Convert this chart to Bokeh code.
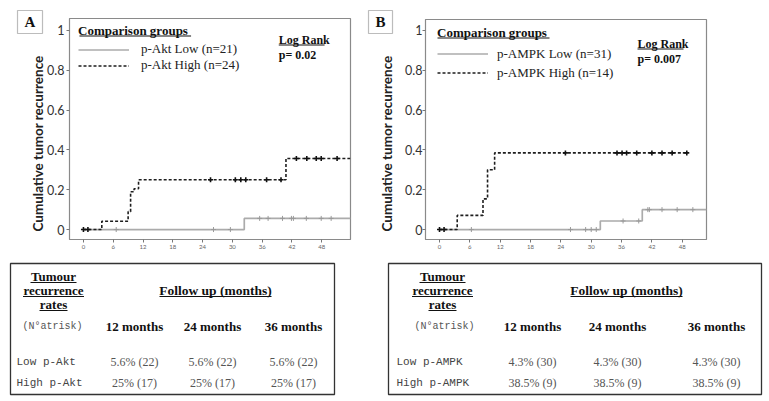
import math
from bokeh.plotting import figure
from bokeh.layouts import row, column
from bokeh.models import (Range1d, FixedTicker, CustomJSTickFormatter, Label, Legend,
                          LegendItem, BoxAnnotation)
from bokeh.embed import file_html
from bokeh.resources import INLINE
from bokeh.core.properties import value

# ---------------- data: panel A (p-Akt) ----------------
a_low_time = [0, 32.4, 53.8]
a_low_cum = [0, 0.056, 0.056]
a_high_time = [0, 3.7, 9.0, 9.5, 10.2, 11.1, 40.8, 53.8]
a_high_cum = [0, 0.042, 0.09, 0.19, 0.205, 0.25, 0.357, 0.357]
a_low_censor = [6.6, 26.2, 29.6, 35.5, 37.2, 40.1, 41.9, 42.3, 44.9, 47.9, 49.9]
a_high_censor = [0, 0.9, 25.6, 30.6, 31.7, 32.7, 36.9, 39.8, 42.9, 45.0, 46.9, 47.9, 51.1]
a_labels = ["p-Akt Low (n=21)", "p-Akt High (n=24)"]
a_pvalue = "p= 0.02"

# ---------------- data: panel B (p-AMPK) ----------------
b_low_time = [0, 31.8, 40.1, 52.8]
b_low_cum = [0, 0.043, 0.1, 0.1]
b_high_time = [0, 3.5, 8.6, 9.5, 10.9, 48.9]
b_high_cum = [0, 0.071, 0.154, 0.30, 0.385, 0.385]
b_low_censor = [6.3, 25.9, 28.9, 30.0, 31.0, 36.3, 39.4, 41.2, 41.5, 44.0, 47.0, 50.1]
b_high_censor = [0, 0.9, 24.9, 35.1, 36.1, 37.0, 39.0, 42.0, 44.0, 46.0, 48.9]
b_labels = ["p-AMPK Low (n=31)", "p-AMPK High (n=14)"]
b_pvalue = "p= 0.007"

x_ticks = [0, 6, 12, 18, 24, 30, 36, 42, 48]
y_ticks = [0, 0.2, 0.4, 0.6, 0.8, 1]
y_title = "Cumulative tumor recurrence"

# ---------------- data: tables ----------------
follow_up_cols = ["12 months", "24 months", "36 months"]
a_rows = ["Low p-Akt", "High p-Akt"]
a_rates = [["5.6% (22)", "5.6% (22)", "5.6% (22)"],
           ["25% (17)", "25% (17)", "25% (17)"]]
b_rows = ["Low p-AMPK", "High p-AMPK"]
b_rates = [["4.3% (30)", "4.3% (30)", "4.3% (30)"],
           ["38.5% (9)", "38.5% (9)", "38.5% (9)"]]

SERIF = "Liberation Serif"
MONO = "Liberation Mono"
SANS = "Lato"


def step_at(ts, vs, t):
    val = vs[0]
    for ti, vi in zip(ts, vs):
        if ti <= t:
            val = vi
    return val


def strip_panel(letter, cfg):
    """Narrow strip left of a plot holding the panel letter box and the y title."""
    ox, oy, W, H = cfg["fig"]
    p = figure(width=W, height=H, output_backend="svg", toolbar_location=None,
               x_range=Range1d(0, W), y_range=Range1d(0, H),
               x_axis_location=None, y_axis_location=None,
               min_border_left=0, min_border_right=0, min_border_top=0, min_border_bottom=0,
               outline_line_color=None, background_fill_color="white",
               border_fill_color="white")
    p.grid.visible = False

    def X(px):
        return px - ox

    def Y(py):
        return H - (py - oy)

    bl, bt, br, bb = cfg["box"]
    p.add_layout(BoxAnnotation(left=X(bl), right=X(br), top=Y(bt), bottom=Y(bb),
                               fill_color="white", fill_alpha=1,
                               line_color="#222222", line_width=1.2))
    p.add_layout(Label(x=X((bl + br) / 2), y=Y((bt + bb) / 2), text=letter, text_font=SERIF,
                       text_font_style="bold", text_font_size="15px", text_color="#111111",
                       text_baseline="middle", text_align="center"))
    tx, ty = cfg["ytitle"]
    p.add_layout(Label(x=X(tx), y=Y(ty), text=y_title, angle=math.pi / 2,
                       text_font=SANS, text_font_style="bold", text_font_size="13.5px",
                       text_color="#222222", text_baseline="middle", text_align="center"))
    return p


def km_panel(low_t, low_v, high_t, high_v, low_c, high_c, labels, pval, cfg):
    ox, oy, W, H = cfg["fig"]
    fl, ft, fw, fh = cfg["frame"]
    x0, x1 = cfg["xr"]
    y0, y1 = cfg["yr"]

    def cx(px):
        return x0 + (px - fl) * (x1 - x0) / fw

    def cy(py):
        return y1 - (py - ft) * (y1 - y0) / fh

    p = figure(width=W, height=H, output_backend="svg", toolbar_location=None,
               x_range=Range1d(x0, x1), y_range=Range1d(y0, y1),
               min_border_left=fl - ox, min_border_right=W - (fl - ox) - fw,
               min_border_top=ft - oy, min_border_bottom=H - (ft - oy) - fh,
               outline_line_color="#8a8a8a", outline_line_width=1.2,
               background_fill_color="white", border_fill_color="white")
    p.grid.visible = False

    r_low = p.step(low_t, low_v, mode="after", line_color="#ababab", line_width=1.7)
    r_high = p.step(high_t, high_v, mode="after", line_color="#1e1e1e", line_width=1.6,
                    line_dash="3 2")
    p.scatter(low_c, [step_at(low_t, low_v, t) for t in low_c], marker="cross", size=5,
              line_color="#9a9a9a", line_width=1)
    p.scatter(high_c, [step_at(high_t, high_v, t) for t in high_c], marker="cross", size=5,
              line_color="#111111", line_width=1.6)

    p.xaxis.ticker = FixedTicker(ticks=x_ticks)
    p.yaxis.ticker = FixedTicker(ticks=y_ticks)
    p.yaxis.formatter = CustomJSTickFormatter(code="return String(tick)")
    p.axis.minor_tick_line_color = None
    p.axis.axis_line_color = "#8a8a8a"
    p.axis.major_tick_line_color = "#777777"
    p.axis.major_tick_in = 0
    p.axis.major_tick_out = 3
    p.xaxis.major_label_text_font = SANS
    p.xaxis.major_label_text_font_size = "6px"
    p.xaxis.major_label_text_color = "#666666"
    p.xaxis.major_label_standoff = 2
    p.yaxis.major_label_text_font = SANS
    p.yaxis.major_label_text_font_size = "12.5px"
    p.yaxis.major_label_text_color = "#333333"
    p.yaxis.major_label_standoff = cfg["ylab_standoff"]

    legend = Legend(items=[LegendItem(label=labels[0], renderers=[r_low]),
                           LegendItem(label=labels[1], renderers=[r_high])],
                    location=cfg["leg_loc"], title="Comparison groups",
                    title_text_font=SERIF, title_text_font_style="bold",
                    title_text_font_size="13px", title_text_color="#111111",
                    title_standoff=cfg["title_standoff"],
                    label_text_font=SERIF, label_text_font_size="13px",
                    label_text_color="#222222",
                    glyph_width=51, glyph_height=cfg["item_h"], label_height=cfg["item_h"],
                    label_standoff=cfg["label_standoff"], spacing=0, padding=0, margin=0,
                    border_line_color=None, background_fill_alpha=0)
    p.add_layout(legend)

    tl, tr, ty = cfg["title_ul"]
    p.add_layout(BoxAnnotation(left=cx(tl), right=cx(tr), top=cy(ty - 0.5), bottom=cy(ty + 0.5),
                               fill_color="#111111", fill_alpha=1, line_color=None))

    lx, ly, pyy, ulw = cfg["logrank"]
    p.add_layout(Label(x=cx(lx), y=cy(ly), text="Log Rank", text_font=SERIF,
                       text_font_style="bold", text_font_size="12px", text_color="#111111",
                       text_baseline="middle", text_align="left"))
    p.add_layout(BoxAnnotation(left=cx(lx), right=cx(lx + ulw), top=cy(ly + 5), bottom=cy(ly + 6),
                               fill_color="#111111", fill_alpha=1, line_color=None))
    p.add_layout(Label(x=cx(lx), y=cy(pyy), text=pval, text_font=SERIF,
                       text_font_style="bold", text_font_size="12px", text_color="#111111",
                       text_baseline="middle", text_align="left"))
    return p


def table_panel(rows, rates, cfg):
    ox, oy, W, H = cfg["fig"]
    fl, ft, fw, fh = cfg["frame"]
    p = figure(width=W, height=H, output_backend="svg", toolbar_location=None,
               x_range=Range1d(0, fw), y_range=Range1d(fh, 0),
               x_axis_location=None, y_axis_location=None,
               min_border_left=fl - ox, min_border_right=W - (fl - ox) - fw,
               min_border_top=ft - oy, min_border_bottom=H - (ft - oy) - fh,
               outline_line_color="#333333", outline_line_width=1.3,
               background_fill_color="white", border_fill_color="white")
    p.grid.visible = False

    def X(px):
        return px - fl

    def Y(py):
        return py - ft

    tc = cfg["tumour_cx"]
    for txt, py, w in zip(["Tumour", "recurrence", "rates"], [276, 290, 304], [46, 61, 28]):
        p.add_layout(Label(x=X(tc), y=Y(py), text=txt, text_font=SERIF, text_font_style="bold",
                           text_font_size="13px", text_color="#111111",
                           text_align="center", text_baseline="middle"))
        p.add_layout(BoxAnnotation(left=X(tc - w / 2), right=X(tc + w / 2),
                                   top=Y(py + 5.5), bottom=Y(py + 6.5),
                                   fill_color="#111111", fill_alpha=1, line_color=None))
    fc = cfg["follow_cx"]
    p.add_layout(Label(x=X(fc), y=Y(290), text="Follow up (months)", text_font=SERIF,
                       text_font_style="bold", text_font_size="13.5px", text_color="#111111",
                       text_align="center", text_baseline="middle"))
    p.add_layout(BoxAnnotation(left=X(fc - 56), right=X(fc + 56), top=Y(295.5), bottom=Y(296.5),
                               fill_color="#111111", fill_alpha=1, line_color=None))
    p.add_layout(Label(x=X(cfg["risk_cx"]), y=Y(326), text="(N°atrisk)", text_font=MONO,
                       text_font_size="10px", text_color="#555555",
                       text_align="center", text_baseline="middle"))

    col_x = [X(c) for c in cfg["col_cx"]]
    p.text(x=col_x, y=[Y(326)] * 3, text=follow_up_cols, text_font=value(SERIF),
           text_font_style="bold", text_font_size="13px", text_color="#111111",
           text_align="center", text_baseline="middle")

    row_y = [Y(361), Y(382)]
    p.text(x=[X(cfg["row_x"])] * len(rows), y=row_y, text=rows, text_font=value(MONO),
           text_font_size="11px", text_color="#444444",
           text_align="left", text_baseline="middle")
    xs, ys, ts = [], [], []
    for yi, rvals in zip(row_y, rates):
        for xi, t in zip(col_x, rvals):
            xs.append(xi)
            ys.append(yi)
            ts.append(t)
    p.text(x=xs, y=ys, text=ts, text_font=value(SERIF), text_font_size="12px",
           text_color="#555555", text_align="center", text_baseline="middle")
    return p


sA = strip_panel("A", dict(fig=(0, 0, 44, 258), box=(17, 10, 42, 33), ytitle=(37, 143)))
pA = km_panel(a_low_time, a_low_cum, a_high_time, a_high_cum, a_low_censor, a_high_censor,
              a_labels, a_pvalue,
              dict(fig=(44, 0, 316, 258), frame=(68, 18, 282, 221), xr=(-2.81, 53.8),
                   yr=(-0.05, 1.06), ylab_standoff=2, leg_loc=(9, 166), item_h=15,
                   title_standoff=2, label_standoff=12, title_ul=(78, 190, 35.5),
                   logrank=(278, 39, 54, 46)))
sB = strip_panel("B", dict(fig=(360, 0, 36, 258), box=(368, 10, 392, 33), ytitle=(386, 143)))
pB = km_panel(b_low_time, b_low_cum, b_high_time, b_high_cum, b_low_censor, b_high_censor,
              b_labels, b_pvalue,
              dict(fig=(396, 0, 370, 258), frame=(425, 19, 281, 220), xr=(-2.77, 52.8),
                   yr=(-0.05, 1.055), ylab_standoff=0, leg_loc=(12, 157), item_h=19,
                   title_standoff=3, label_standoff=9, title_ul=(437, 549, 37.5),
                   logrank=(637, 43, 58, 46)))

tA = table_panel(a_rows, a_rates, dict(fig=(0, 258, 386, 141), frame=(10, 263, 324, 131),
                                       tumour_cx=53, risk_cx=52, follow_cx=215,
                                       col_cx=[134, 212, 293], row_x=16))
tB = table_panel(b_rows, b_rates, dict(fig=(386, 258, 381, 141), frame=(388, 263, 373, 131),
                                       tumour_cx=442, risk_cx=444, follow_cx=626,
                                       col_cx=[532, 617, 716], row_x=396))

# wrap each figure in its own column so that the row does not align plot frames
top = row(column(sA), column(pA), column(sB), column(pB), spacing=0)
bottom = row(column(tA), column(tB), spacing=0)
layout = column(top, bottom, spacing=0)

with open("out.html", "w") as f:
    f.write(file_html(layout, INLINE))
